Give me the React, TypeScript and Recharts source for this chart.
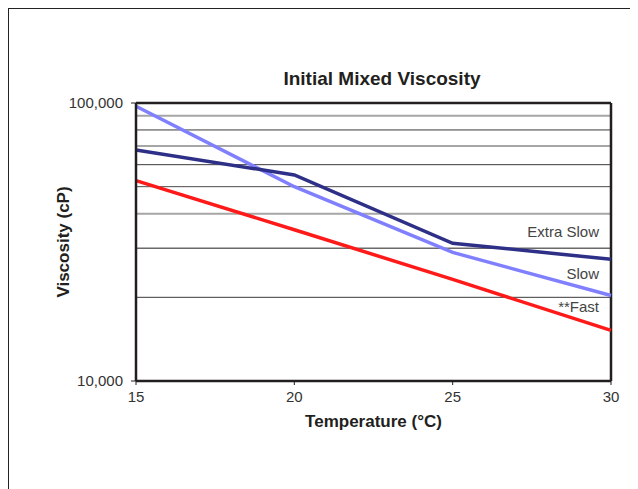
import { LineChart, Line, XAxis, YAxis, ReferenceLine } from 'recharts';

const temps = [15, 20, 25, 30];
const extraSlow = [67800, 55100, 31300, 27400];
const slow = [97300, 50000, 29000, 20300];
const fast = [52600, 35000, 23200, 15200];

const xTicks = [15, 20, 25, 30];
const yTicks = [10000, 100000];
const gridValues = [20000, 30000, 40000, 50000, 60000, 70000, 80000, 90000];

// per grid line styling (same order as gridValues)
const gridStyle = [
  { stroke: '#3a3a3a', w: 1 },
  { stroke: '#6a6a6a', w: 1.5 },
  { stroke: '#a6a6a6', w: 2 },
  { stroke: '#4a4a4a', w: 1 },
  { stroke: '#3a3a3a', w: 1 },
  { stroke: '#a6a6a6', w: 2 },
  { stroke: '#3a3a3a', w: 1 },
  { stroke: '#a6a6a6', w: 2 },
];

const data = temps.map((t, i) => ({
  t,
  extraSlow: extraSlow[i],
  slow: slow[i],
  fast: fast[i],
}));

const FONT = '"Liberation Sans", Arial, Helvetica, sans-serif';
const FRAME = '#231f20';

const endLabel = (text: string, dy: number) => (props: any) => {
  if (props.index !== data.length - 1) return null;
  return (
    <text
      x={props.x - 12}
      y={props.y + dy}
      textAnchor="end"
      dominantBaseline="central"
      fontFamily={FONT}
      fontSize={15}
      fill="#444"
    >
      {text}
    </text>
  );
};

export default function App() {
  return (
    <div
      style={{
        position: 'relative',
        width: 625,
        height: 490,
        border: '1px solid #222',
        background: '#fff',
      }}
    >
      <div
        style={{
          position: 'absolute',
          left: 0,
          width: 746,
          top: 59,
          textAlign: 'center',
          fontFamily: FONT,
          fontWeight: 'bold',
          fontSize: 19,
          color: '#231f20',
        }}
      >
        Initial Mixed Viscosity
      </div>
      <LineChart
        width={625}
        height={490}
        data={data}
        margin={{ top: 94, right: 23, bottom: 88, left: 0 }}
      >
        <XAxis
          dataKey="t"
          type="number"
          domain={[15, 30]}
          ticks={xTicks}
          height={30}
          tickSize={4}
          tickMargin={6}
          axisLine={{ stroke: FRAME, strokeWidth: 2.5 }}
          tickLine={{ stroke: FRAME }}
          tick={{ fill: '#333', fontSize: 15, fontFamily: FONT }}
          label={{
            content: (p: any) => (
              <text
                x={p.viewBox.x + p.viewBox.width / 2}
                y={p.viewBox.y + 46}
                textAnchor="middle"
                fontFamily={FONT}
                fontWeight="bold"
                fontSize={17}
                fill="#231f20"
              >
                Temperature (°C)
              </text>
            ),
          }}
        />
        <YAxis
          scale="log"
          domain={[10000, 100000]}
          ticks={yTicks}
          allowDataOverflow
          width={127}
          tickSize={5}
          tickMargin={8}
          tickFormatter={(v: number) => v.toLocaleString('en-US')}
          axisLine={{ stroke: FRAME, strokeWidth: 2.5 }}
          tickLine={{ stroke: FRAME }}
          tick={{ fill: '#333', fontSize: 15, fontFamily: FONT }}
          label={{
            content: (p: any) => {
              const cx = p.viewBox.x + 54;
              const cy = p.viewBox.y + p.viewBox.height / 2;
              return (
                <text
                  x={cx}
                  y={cy}
                  transform={`rotate(-90, ${cx}, ${cy})`}
                  textAnchor="middle"
                  dominantBaseline="central"
                  fontFamily={FONT}
                  fontWeight="bold"
                  fontSize={17}
                  fill="#231f20"
                >
                  Viscosity (cP)
                </text>
              );
            },
          }}
        />
        {gridValues.map((v, i) => (
          <ReferenceLine
            key={v}
            y={v}
            stroke={gridStyle[i].stroke}
            strokeWidth={gridStyle[i].w}
          />
        ))}
        <ReferenceLine y={100000} stroke={FRAME} strokeWidth={2.5} />
        <ReferenceLine x={30} stroke={FRAME} strokeWidth={2.5} />
        <Line
          dataKey="fast"
          stroke="#ff1a1a"
          strokeWidth={3.5}
          dot={false}
          isAnimationActive={false}
          label={endLabel('**Fast', -24)}
        />
        <Line
          dataKey="slow"
          stroke="#8080ff"
          strokeWidth={3.5}
          dot={false}
          isAnimationActive={false}
          label={endLabel('Slow', -22)}
        />
        <Line
          dataKey="extraSlow"
          stroke="#2e3087"
          strokeWidth={3.5}
          dot={false}
          isAnimationActive={false}
          label={endLabel('Extra Slow', -28)}
        />
      </LineChart>
    </div>
  );
}
